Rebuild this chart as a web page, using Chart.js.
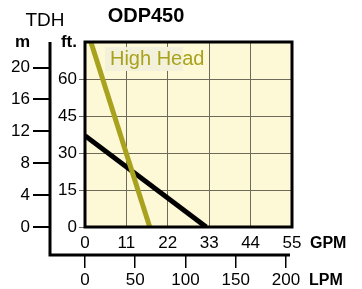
<!DOCTYPE html>
<html>
<head>
<meta charset="utf-8">
<script src="https://cdn.jsdelivr.net/npm/chart.js@4.4.0/dist/chart.umd.min.js"></script>
<style>
html,body{margin:0;padding:0;background:#fff;}
#wrap{width:362px;height:289px;}
</style>
</head>
<body>
<div id="wrap"><canvas id="pumpChart" width="362" height="289"></canvas></div>
<script>
// ODP450 pump curves (flow in GPM, head in ft)
const highHeadGpm = [0, 17.2];
const highHeadFt  = [82.5, 0];
const lowHeadGpm  = [0, 32.2];
const lowHeadFt   = [37, 0];

// tick labels
const gpmTicks = [0, 11, 22, 33, 44, 55];
const ftTicks  = [0, 15, 30, 45, 60];
const mTicks   = [0, 4, 8, 12, 16, 20];
const lpmTicks = [0, 50, 100, 150, 200];

const OLIVE = '#a8a21e', PLOT_BG = '#fdf9d7', GRID = '#6e6a5a';
const FONT = '"Liberation Sans", Arial, Helvetica, sans-serif';

Chart.defaults.font.family = FONT;
Chart.defaults.color = '#000';

const toPts = (xs, ys) => xs.map((x, i) => ({ x, y: ys[i] }));
const useTicks = arr => scale => { scale.ticks = arr.map(v => ({ value: v })); };

const decor = {
  id: 'decor',
  beforeDraw(chart){
    const { ctx, chartArea: a } = chart;
    ctx.save();
    ctx.fillStyle = PLOT_BG;
    ctx.fillRect(a.left, a.top, a.right - a.left, a.bottom - a.top);
    ctx.restore();
  },
  beforeDatasetsDraw(chart){
    // label box for the high head curve
    const { ctx, scales } = chart;
    const x = scales.x.getPixelForValue(5.3), y = scales.y.getPixelForValue(73);
    ctx.save();
    ctx.fillStyle = '#f3f1da';
    ctx.fillRect(x, y, 78, 24);
    ctx.fillStyle = OLIVE;
    ctx.font = '20px ' + FONT;
    ctx.textBaseline = 'middle';
    ctx.fillText('High Head', x + 5, y + 13);
    ctx.restore();
  },
  afterDraw(chart){
    const { ctx, chartArea: a, scales } = chart;
    ctx.save();
    ctx.strokeStyle = '#000';
    ctx.lineWidth = 3;
    ctx.strokeRect(a.left, a.top, a.right - a.left, a.bottom - a.top);
    // metric axis frame
    const fx = scales.ym.right, fy = scales.xl.top;
    ctx.beginPath();
    ctx.moveTo(fx, a.top);
    ctx.lineTo(fx, fy);
    ctx.lineTo(a.right - 2, fy);
    ctx.stroke();

    ctx.fillStyle = '#000';
    ctx.font = '19px ' + FONT;
    ctx.textAlign = 'center';
    ctx.textBaseline = 'alphabetic';
    ctx.fillText('TDH', 45, 26);
    ctx.font = 'bold 17px ' + FONT;
    ctx.fillText('m', 22.5, 47);
    ctx.textAlign = 'right';
    ctx.fillText('ft.', 77, 47);
    ctx.textAlign = 'left';
    ctx.font = 'bold 16px ' + FONT;
    ctx.fillText('GPM', 310, 248);
    ctx.fillText('LPM', 309, 285);
    ctx.restore();
  }
};

new Chart(document.getElementById('pumpChart'), {
  type: 'line',
  data: {
    datasets: [
      { label: 'High Head', data: toPts(highHeadGpm, highHeadFt), borderColor: OLIVE, borderWidth: 5, pointRadius: 0, clip: 0 },
      { label: 'Low Head', data: toPts(lowHeadGpm, lowHeadFt), borderColor: '#000', borderWidth: 5, pointRadius: 0, clip: 0 }
    ]
  },
  options: {
    responsive: false,
    animation: false,
    layout: { padding: { left: 0, right: 70, top: 0, bottom: 0 } },
    plugins: {
      legend: { display: false },
      tooltip: { enabled: false },
      title: { display: true, text: 'ODP450', font: { size: 20, weight: 'bold' }, color: '#000', padding: { top: 4, bottom: 14 } }
    },
    scales: {
      x: {
        type: 'linear', position: 'bottom', min: 0, max: 55, weight: 0,
        afterBuildTicks: useTicks(gpmTicks),
        afterFit: s => { s.height = 28; },
        grid: { color: GRID, lineWidth: 1, drawTicks: false },
        border: { display: false },
        ticks: { font: { size: 17 }, padding: 6, autoSkip: false, maxRotation: 0 }
      },
      xl: {
        type: 'linear', position: 'bottom', min: 0, max: 206, weight: 1,
        afterBuildTicks: useTicks(lpmTicks),
        afterFit: s => { s.height = 34; },
        grid: { drawOnChartArea: false, color: '#000', lineWidth: 1.5, tickLength: 13 },
        border: { display: false },
        ticks: { font: { size: 17 }, padding: 2, autoSkip: false, maxRotation: 0 }
      },
      y: {
        type: 'linear', position: 'left', min: 0, max: 75, weight: 0,
        afterBuildTicks: useTicks(ftTicks),
        afterFit: s => { s.width = 35; },
        grid: { color: GRID, lineWidth: 1, tickLength: 6 },
        border: { display: false },
        ticks: { font: { size: 17 }, padding: 2, autoSkip: false }
      },
      ym: {
        type: 'linear', position: 'left', min: 0, max: 23.2, weight: 1,
        afterBuildTicks: useTicks(mTicks),
        afterFit: s => { s.width = 50; },
        grid: { drawOnChartArea: false, color: '#000', lineWidth: 2, tickLength: 17 },
        border: { display: false },
        ticks: { font: { size: 17 }, padding: 3, autoSkip: false }
      }
    }
  },
  plugins: [decor]
});
</script>
</body>
</html>
